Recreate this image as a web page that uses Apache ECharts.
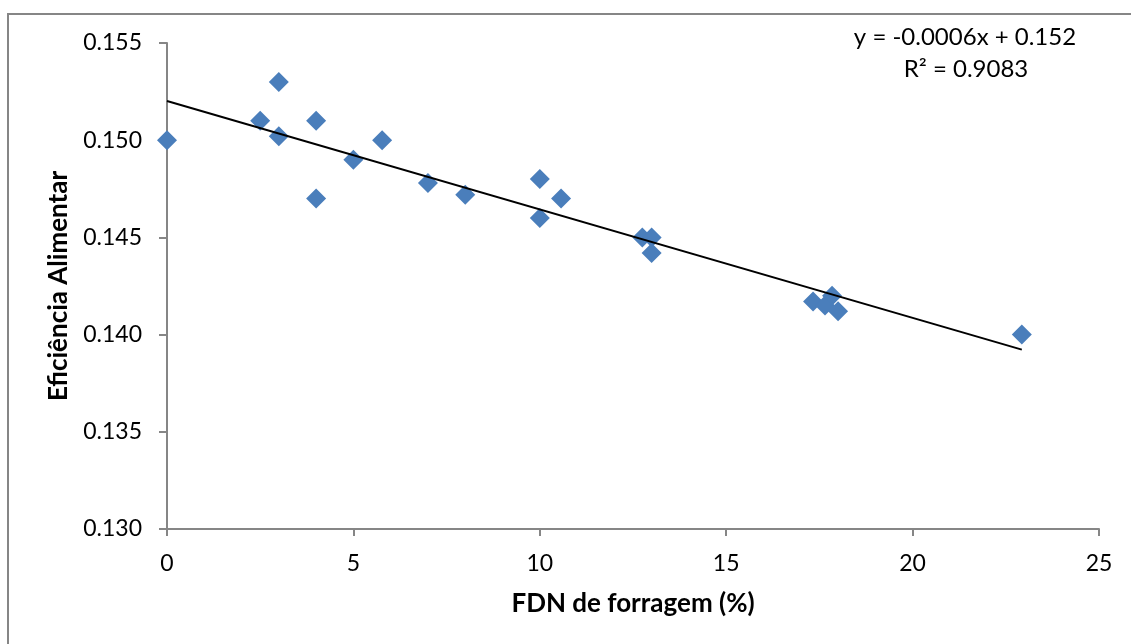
<!DOCTYPE html>
<html>
<head>
<meta charset="utf-8">
<script src="https://cdn.jsdelivr.net/npm/echarts@6/dist/echarts.min.js"></script>
<style>
  html, body { margin: 0; padding: 0; background: #fff; }
  #chart { width: 1131px; height: 644px; }
</style>
</head>
<body>
<div id="chart"></div>
<script>
// FDN de forragem (%) for each observation
const fdnForragem = [0, 2.5, 3, 3, 4, 4, 5, 5.77, 7, 8, 10, 10, 10.57, 12.75, 13, 13, 17.33, 17.65, 17.84, 18, 22.93];
// Eficiência alimentar for each observation
const eficiencia = [0.150, 0.151, 0.153, 0.1502, 0.151, 0.147, 0.149, 0.150, 0.1478, 0.1472, 0.148, 0.146, 0.147, 0.145, 0.145, 0.1442, 0.1417, 0.1415, 0.142, 0.1412, 0.140];
// Axis ticks
const xTicks = [0, 5, 10, 15, 20, 25];
const yTicks = [0.130, 0.135, 0.140, 0.145, 0.150, 0.155];
// Trend-line equation labels
const equationLines = ['y = -0.0006x + 0.152', 'R² = 0.9083'];

const points = fdnForragem.map((x, i) => [x, eficiencia[i]]);

// Least-squares linear trend over the observations
const n = points.length;
const mx = fdnForragem.reduce((a, b) => a + b, 0) / n;
const my = eficiencia.reduce((a, b) => a + b, 0) / n;
let sxy = 0, sxx = 0;
points.forEach(([x, y]) => { sxy += (x - mx) * (y - my); sxx += (x - mx) * (x - mx); });
const slope = sxy / sxx;
const intercept = my - slope * mx;
const xMin = Math.min(...fdnForragem);
const xMax = Math.max(...fdnForragem);
const trend = [[xMin, intercept + slope * xMin], [xMax, intercept + slope * xMax]];

const font = 'Lato, "Open Sans", sans-serif';
const axisGrey = '#868686';

const chart = echarts.init(document.getElementById('chart'), null, { renderer: 'canvas' });
chart.setOption({
  backgroundColor: '#ffffff',
  animation: false,
  grid: { left: 167, right: 32, top: 43, bottom: 115, containLabel: false },
  xAxis: {
    type: 'value',
    min: xTicks[0],
    max: xTicks[xTicks.length - 1],
    interval: xTicks[1] - xTicks[0],
    name: 'FDN de forragem (%)',
    nameLocation: 'middle',
    nameGap: 62,
    nameTextStyle: { fontFamily: font, fontWeight: 'bold', fontSize: 26, color: '#000' },
    axisLine: { show: true, onZero: false, lineStyle: { color: axisGrey, width: 2 } },
    axisTick: { show: true, length: 7, lineStyle: { color: axisGrey, width: 2 } },
    axisLabel: { fontFamily: font, fontSize: 23, color: '#000', margin: 23 },
    splitLine: { show: false }
  },
  yAxis: {
    type: 'value',
    min: yTicks[0],
    max: yTicks[yTicks.length - 1],
    interval: 0.005,
    name: 'Eficiência Alimentar',
    nameLocation: 'middle',
    nameGap: 95,
    nameRotate: 90,
    nameTextStyle: { fontFamily: font, fontWeight: 'bold', fontSize: 26, color: '#000' },
    axisLine: { show: true, onZero: false, lineStyle: { color: axisGrey, width: 2 } },
    axisTick: { show: true, length: 8, lineStyle: { color: axisGrey, width: 2 } },
    axisLabel: { fontFamily: font, fontSize: 23, color: '#000', margin: 25,
      formatter: v => v.toFixed(3) },
    splitLine: { show: false }
  },
  graphic: [
    {
      type: 'rect',
      shape: { x: 8, y: 14, width: 1300, height: 800 },
      style: { fill: 'none', stroke: axisGrey, lineWidth: 2 },
      silent: true,
      z: -1
    },
    {
      type: 'text',
      x: 965,
      y: 37,
      style: {
        text: equationLines[0],
        fontFamily: font,
        fontSize: 24,
        fill: '#000',
        align: 'center',
        verticalAlign: 'middle'
      }
    },
    {
      type: 'text',
      x: 966,
      y: 69,
      style: {
        text: equationLines[1],
        fontFamily: font,
        fontSize: 24,
        fill: '#000',
        align: 'center',
        verticalAlign: 'middle'
      }
    }
  ],
  series: [
    {
      type: 'line',
      data: trend,
      showSymbol: false,
      symbol: 'none',
      lineStyle: { color: '#000', width: 2 },
      z: 3
    },
    {
      type: 'scatter',
      data: points,
      symbol: 'diamond',
      symbolSize: 20,
      itemStyle: { color: '#4A7EBB', opacity: 1 },
      z: 2
    }
  ]
});
</script>
</body>
</html>
